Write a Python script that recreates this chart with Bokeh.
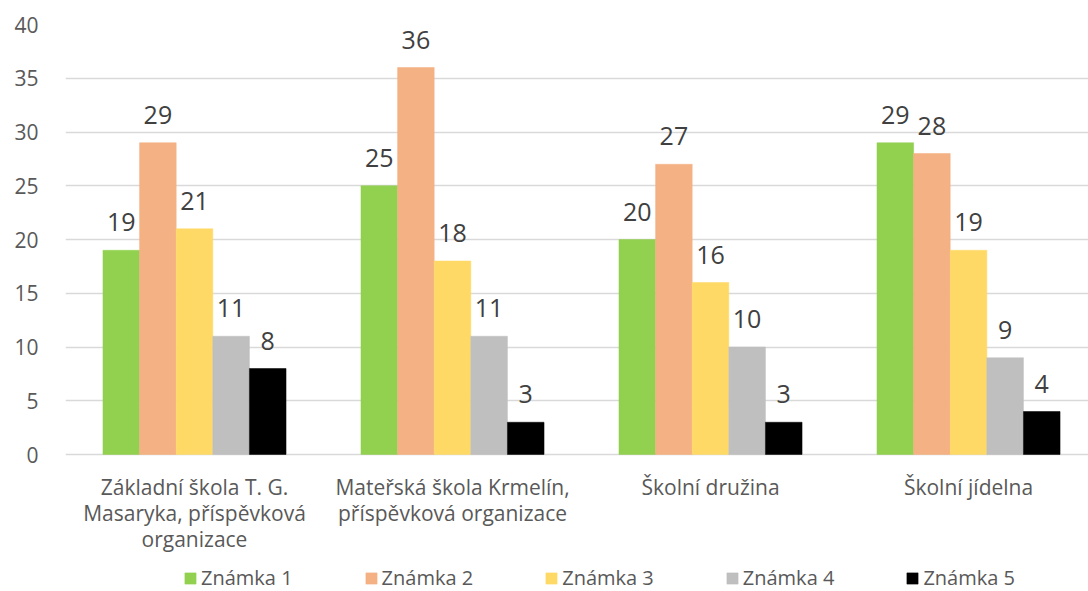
from bokeh.plotting import figure
from bokeh.models import ColumnDataSource, Range1d, FixedTicker, Legend, LegendItem, LabelSet
from bokeh.core.properties import value
from bokeh.embed import file_html
from bokeh.resources import INLINE

categories = ["Základní škola T. G.\nMasaryka, příspěvková\norganizace",
              "Mateřská škola Krmelín,\npříspěvková organizace",
              "Školní družina",
              "Školní jídelna"]
series_names = ["Známka 1", "Známka 2", "Známka 3", "Známka 4", "Známka 5"]
znamka1 = [19, 25, 20, 29]
znamka2 = [29, 36, 27, 28]
znamka3 = [21, 18, 16, 19]
znamka4 = [11, 11, 10, 9]
znamka5 = [8, 3, 3, 4]
series_values = [znamka1, znamka2, znamka3, znamka4, znamka5]
colors = ["#92D050", "#F4B183", "#FFD966", "#BFBFBF", "#000000"]
y_ticks = [0, 5, 10, 15, 20, 25, 30, 35, 40]

FONT = "Open Sans"
bar_w = 0.1419
px_per_unit = 10.75
y_bottom = -137 / px_per_unit

p = figure(frame_width=1023, frame_height=567, output_backend="svg", toolbar_location=None,
           x_range=Range1d(0, 3.965), y_range=Range1d(y_bottom, 40),
           min_border_left=65, min_border_right=0, min_border_top=24, min_border_bottom=0)
p.outline_line_color = None
p.background_fill_color = "white"
p.border_fill_color = "white"

items = []
centers = [i + 0.5 for i in range(len(categories))]
for k, (name, vals, col) in enumerate(zip(series_names, series_values, colors)):
    xs = [c + (k - 2) * bar_w for c in centers]
    src = ColumnDataSource(dict(x=xs, top=vals, lab=[str(v) for v in vals]))
    r = p.vbar(x="x", top="top", width=bar_w, bottom=0, source=src,
               fill_color=col, line_color=col, line_width=0.5)
    items.append(LegendItem(label=name, renderers=[r]))
    p.add_layout(LabelSet(x="x", y="top", text="lab", source=src, y_offset=19,
                          text_align="center", text_baseline="alphabetic",
                          text_font=value(FONT), text_font_size="25px", text_color="#404040"))

# category labels below the zero line
cat_src = ColumnDataSource(dict(x=centers, y=[-1.72] * len(centers), t=categories))
p.text(x="x", y="y", text="t", source=cat_src, text_align="center", text_baseline="top",
       text_font=value(FONT), text_font_size="21px", text_color="#595959",
       text_line_height=0.93)

p.xaxis.visible = False

p.yaxis.ticker = FixedTicker(ticks=y_ticks)
p.yaxis.major_label_text_font = FONT
p.yaxis.major_label_text_font_size = "21px"
p.yaxis.major_label_text_color = "#595959"
p.yaxis.major_label_standoff = 21
p.yaxis.axis_line_color = None
p.yaxis.major_tick_line_color = None
p.yaxis.minor_tick_line_color = None

p.xgrid.grid_line_color = None
p.ygrid.grid_line_color = "#D9D9D9"
p.ygrid.grid_line_width = 1.5

legend = Legend(items=items, orientation="horizontal", location=(118, 0),
                label_text_font=FONT, label_text_font_size="20px", label_text_color="#595959",
                glyph_width=14, glyph_height=14, label_standoff=4, spacing=71,
                border_line_color=None, background_fill_alpha=0, padding=0, margin=0)
p.add_layout(legend, "center")

open("out.html", "w").write(file_html(p, INLINE))
